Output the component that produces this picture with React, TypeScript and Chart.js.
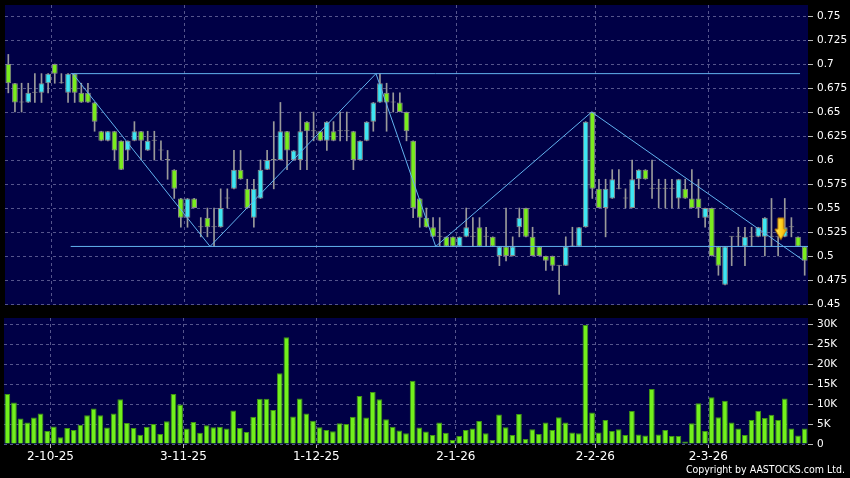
import React, { useEffect, useRef } from "react";
import { Chart, registerables } from "chart.js";

Chart.register(...registerables);

// ---- Data ----
const opens = [
  0.70, 0.68, 0.66, 0.66, 0.67, 0.67, 0.68, 0.70, 0.68, 0.67,
  0.69, 0.67, 0.67, 0.66, 0.63, 0.62, 0.63, 0.62, 0.61, 0.62,
  0.63, 0.61, 0.62, 0.61, 0.60, 0.59, 0.56, 0.54, 0.56, 0.53,
  0.54, 0.53, 0.53, 0.56, 0.57, 0.59, 0.57, 0.54, 0.56, 0.59,
  0.60, 0.60, 0.63, 0.60, 0.60, 0.64, 0.63, 0.63, 0.62, 0.63,
  0.63, 0.63, 0.63, 0.60, 0.62, 0.64, 0.66, 0.67, 0.66, 0.66,
  0.65, 0.62, 0.56, 0.54, 0.53, 0.52, 0.52, 0.52, 0.51, 0.52,
  0.52, 0.53, 0.52, 0.52, 0.50, 0.51, 0.50, 0.53, 0.55, 0.52,
  0.51, 0.50, 0.50, 0.49, 0.49, 0.51, 0.51, 0.53, 0.65, 0.57,
  0.55, 0.56, 0.57, 0.56, 0.55, 0.58, 0.59, 0.57, 0.57, 0.57,
  0.57, 0.56, 0.57, 0.56, 0.56, 0.54, 0.55, 0.51, 0.47, 0.52,
  0.52, 0.51, 0.52, 0.52, 0.52, 0.52, 0.52, 0.52, 0.53, 0.52,
  0.51,
];
const highs = [
  0.71, 0.68, 0.68, 0.68, 0.69, 0.69, 0.69, 0.70, 0.69, 0.69,
  0.69, 0.68, 0.68, 0.66, 0.63, 0.63, 0.63, 0.62, 0.62, 0.64,
  0.63, 0.63, 0.63, 0.62, 0.61, 0.59, 0.56, 0.56, 0.56, 0.54,
  0.55, 0.55, 0.57, 0.57, 0.61, 0.61, 0.58, 0.58, 0.60, 0.61,
  0.64, 0.66, 0.63, 0.61, 0.65, 0.64, 0.65, 0.63, 0.64, 0.64,
  0.65, 0.65, 0.63, 0.62, 0.64, 0.66, 0.69, 0.68, 0.67, 0.67,
  0.65, 0.62, 0.56, 0.55, 0.54, 0.54, 0.52, 0.52, 0.52, 0.55,
  0.54, 0.54, 0.53, 0.52, 0.51, 0.55, 0.52, 0.55, 0.55, 0.53,
  0.51, 0.50, 0.50, 0.49, 0.52, 0.53, 0.53, 0.64, 0.65, 0.58,
  0.58, 0.59, 0.59, 0.57, 0.60, 0.59, 0.59, 0.60, 0.58, 0.58,
  0.58, 0.58, 0.58, 0.59, 0.58, 0.55, 0.55, 0.51, 0.51, 0.52,
  0.53, 0.53, 0.53, 0.53, 0.54, 0.56, 0.52, 0.56, 0.54, 0.52,
  0.51,
];
const lows = [
  0.67, 0.65, 0.65, 0.66, 0.66, 0.66, 0.67, 0.68, 0.68, 0.66,
  0.66, 0.66, 0.66, 0.63, 0.62, 0.62, 0.60, 0.59, 0.60, 0.62,
  0.60, 0.61, 0.60, 0.60, 0.58, 0.56, 0.53, 0.53, 0.55, 0.52,
  0.52, 0.51, 0.53, 0.55, 0.57, 0.58, 0.55, 0.53, 0.56, 0.59,
  0.57, 0.60, 0.59, 0.60, 0.59, 0.59, 0.62, 0.62, 0.61, 0.62,
  0.62, 0.62, 0.59, 0.60, 0.62, 0.63, 0.66, 0.63, 0.65, 0.65,
  0.62, 0.54, 0.53, 0.53, 0.52, 0.51, 0.51, 0.51, 0.51, 0.52,
  0.51, 0.51, 0.51, 0.51, 0.49, 0.495, 0.50, 0.52, 0.52, 0.50,
  0.50, 0.485, 0.485, 0.46, 0.49, 0.51, 0.51, 0.53, 0.56, 0.55,
  0.52, 0.56, 0.57, 0.55, 0.55, 0.57, 0.58, 0.56, 0.55, 0.55,
  0.55, 0.55, 0.56, 0.55, 0.54, 0.53, 0.50, 0.48, 0.47, 0.49,
  0.51, 0.49, 0.51, 0.52, 0.50, 0.51, 0.50, 0.52, 0.52, 0.51,
  0.48,
];
const closes = [
  0.68, 0.66, 0.66, 0.67, 0.67, 0.68, 0.69, 0.69, 0.68, 0.69,
  0.67, 0.66, 0.66, 0.64, 0.62, 0.63, 0.61, 0.59, 0.62, 0.63,
  0.62, 0.62, 0.62, 0.61, 0.60, 0.57, 0.54, 0.56, 0.55, 0.53,
  0.53, 0.53, 0.55, 0.56, 0.59, 0.58, 0.55, 0.57, 0.59, 0.60,
  0.60, 0.63, 0.61, 0.61, 0.63, 0.63, 0.63, 0.62, 0.64, 0.62,
  0.63, 0.63, 0.60, 0.62, 0.64, 0.66, 0.68, 0.66, 0.66, 0.65,
  0.63, 0.55, 0.54, 0.53, 0.52, 0.52, 0.51, 0.51, 0.52, 0.53,
  0.52, 0.51, 0.52, 0.51, 0.51, 0.50, 0.51, 0.54, 0.52, 0.50,
  0.50, 0.495, 0.49, 0.49, 0.51, 0.51, 0.53, 0.64, 0.57, 0.55,
  0.57, 0.58, 0.57, 0.56, 0.58, 0.59, 0.58, 0.57, 0.57, 0.57,
  0.57, 0.58, 0.56, 0.55, 0.55, 0.55, 0.50, 0.49, 0.51, 0.52,
  0.52, 0.52, 0.52, 0.53, 0.54, 0.52, 0.52, 0.53, 0.53, 0.51,
  0.495,
];
const volumes = [
  12500, 10400, 6400, 5400, 6600, 7600, 3250, 4400, 1700, 4000,
  3500, 4800, 7200, 8900, 7200, 4100, 7600, 11200, 5250, 4000,
  2300, 4300, 5000, 2500, 5700, 12500, 9900, 3900, 5500, 2800,
  4700, 4200, 4300, 3900, 8400, 4000, 3000, 6800, 11300, 11300,
  8500, 17700, 26700, 6900, 11400, 7600, 5800, 4200, 3500, 3200,
  5200, 5000, 6800, 12000, 6600, 13000, 11200, 6200, 4300, 3400,
  2700, 15800, 4100, 3100, 2250, 5400, 2800, 1000, 2000, 3500,
  3900, 5750, 2700, 1000, 7400, 4200, 2250, 7500, 1250, 3700,
  2500, 5400, 3500, 6700, 5400, 2900, 2700, 29750, 7900, 2900,
  6000, 3250, 3700, 2250, 8250, 2400, 2100, 13750, 2400, 3500,
  2000, 2000, 600, 5200, 10200, 3250, 11700, 6700, 10800, 5400,
  3900, 2250, 6000, 8300, 6500, 7300, 6000, 11400, 3900, 2100,
  3900,
];

const xTickIndex = [6, 26, 46, 67, 88, 105];
const xTickLabels = ["2-10-25", "3-11-25", "1-12-25", "2-1-26", "2-2-26", "2-3-26"];
const priceTicks = [0.45, 0.475, 0.5, 0.525, 0.55, 0.575, 0.6, 0.625, 0.65, 0.675, 0.7, 0.725, 0.75];
const priceTickLabels = ["0.45", "0.475", "0.5", "0.525", "0.55", "0.575", "0.6", "0.625", "0.65", "0.675", "0.7", "0.725", "0.75"];
const volTicks = [0, 5000, 10000, 15000, 20000, 25000, 30000];
const volTickLabels = ["0", "5K", "10K", "15K", "20K", "25K", "30K"];

// trend lines (x in bar-index units, y in price)
const resistanceX = [9.4, 119.3];
const resistanceY = [0.69, 0.69];
const supportX = [9.4, 120.5];
const supportY = [0.51, 0.51];
const zigzagX = [9.7, 30.4, 55.4, 64.4, 87.9, 119.7];
const zigzagY = [0.69, 0.51, 0.69, 0.51, 0.65, 0.496];
const signalX = [116.4];
const signalY = [0.528];

// ---- Styles ----
const NAVY = "#000046";
const GRID = "#55558c";
const TICKMARK = "#b8b8b8";
const LABEL = "#ffffff";
const UP = "#3ee6f2";
const DOWN = "#7aec1e";
const FLAT = "#9a9a9a";
const EDGE = "#8a8a8a";
const WICK = "#9a9a9a";
const TREND = "#62b2ee";
const VOL = "#72f01c";
const VOL_EDGE = "#3f9414";

const bgPlugin = {
  id: "plotBg",
  beforeDraw(chart: any) {
    const { ctx, chartArea: a } = chart;
    ctx.save();
    ctx.fillStyle = NAVY;
    ctx.fillRect(a.left, a.top, a.right - a.left, a.bottom - a.top);
    ctx.restore();
  },
};

function makeArrow(): HTMLCanvasElement {
  const c = document.createElement("canvas");
  c.width = 14;
  c.height = 24;
  const g = c.getContext("2d")!;
  const grad = g.createLinearGradient(0, 0, 14, 0);
  grad.addColorStop(0, "#fff07a");
  grad.addColorStop(0.5, "#ffd21e");
  grad.addColorStop(1, "#f0a000");
  g.fillStyle = grad;
  g.strokeStyle = "#c27a00";
  g.lineWidth = 1;
  g.beginPath();
  g.moveTo(4, 1);
  g.lineTo(10, 1);
  g.lineTo(10, 12);
  g.lineTo(13, 12);
  g.lineTo(7, 22.5);
  g.lineTo(1, 12);
  g.lineTo(4, 12);
  g.closePath();
  g.fill();
  g.stroke();
  return c;
}

const fitY = (s: any) => {
  s.width = 42;
  s.paddingTop = 0;
  s.paddingBottom = 0;
};

export default function App() {
  const priceRef = useRef<HTMLCanvasElement>(null);
  const volRef = useRef<HTMLCanvasElement>(null);

  useEffect(() => {
    const idx = opens.map((_, i) => i);
    const arrow = makeArrow();
    const xMin = -0.5;
    const xMax = opens.length - 0.5;

    const priceChart = new Chart(priceRef.current!, {
      type: "bar",
      data: {
        datasets: [
          {
            type: "bar",
            data: idx.map((i) => ({ x: i, y: [lows[i], highs[i]] })),
            backgroundColor: WICK,
            borderWidth: 0,
            grouped: false,
            maxBarThickness: 1,
            categoryPercentage: 1,
            barPercentage: 1,
            order: 5,
          } as any,
          {
            type: "bar",
            data: idx.map((i) => ({ x: i, y: [opens[i], closes[i]] })),
            backgroundColor: (c: any) => {
              const i = c.dataIndex;
              if (closes[i] > opens[i]) return UP;
              if (closes[i] < opens[i]) return DOWN;
              return FLAT;
            },
            borderColor: EDGE,
            borderWidth: 1,
            borderSkipped: false,
            minBarLength: 1,
            grouped: false,
            categoryPercentage: 1,
            barPercentage: 0.86,
            order: 4,
          } as any,
          {
            type: "line",
            data: resistanceX.map((x, k) => ({ x, y: resistanceY[k] })),
            borderColor: TREND,
            borderWidth: 1,
            pointRadius: 0,
            fill: false,
            order: 2,
          } as any,
          {
            type: "line",
            data: supportX.map((x, k) => ({ x, y: supportY[k] })),
            borderColor: TREND,
            borderWidth: 1,
            pointRadius: 0,
            fill: false,
            order: 2,
          } as any,
          {
            type: "line",
            data: zigzagX.map((x, k) => ({ x, y: zigzagY[k] })),
            borderColor: TREND,
            borderWidth: 1,
            pointRadius: 0,
            fill: false,
            tension: 0,
            order: 1,
          } as any,
          {
            type: "scatter",
            data: signalX.map((x, k) => ({ x, y: signalY[k] })),
            pointStyle: arrow,
            order: 0,
          } as any,
        ],
      },
      options: {
        animation: false,
        responsive: false,
        maintainAspectRatio: false,
        layout: { padding: { left: 4, top: 5, right: 0, bottom: 5 } },
        plugins: { legend: { display: false }, tooltip: { enabled: false } },
        scales: {
          x: {
            type: "linear",
            min: xMin,
            max: xMax,
            offset: false,
            grid: { color: GRID, drawTicks: false, offset: false },
            border: { display: false, dash: [3, 3] },
            ticks: { display: false },
            afterBuildTicks: (s: any) => {
              s.ticks = xTickIndex.map((i) => ({ value: i + 0.5 }));
            },
            afterFit: (s: any) => {
              s.height = 0;
              s.paddingLeft = 0;
              s.paddingRight = 0;
            },
          },
          y: {
            position: "right",
            min: 0.449,
            max: 0.7615,
            beginAtZero: false,
            grid: { color: GRID, tickColor: TICKMARK, tickLength: 5 },
            border: { display: false, dash: [3, 3] },
            ticks: {
              color: LABEL,
              font: { family: "DejaVu Sans", size: 10.5 },
              padding: 4,
              callback: (_v: any, i: number) => priceTickLabels[i],
            },
            afterBuildTicks: (s: any) => {
              s.ticks = priceTicks.map((v) => ({ value: v }));
            },
            afterFit: fitY,
          },
        },
      } as any,
      plugins: [bgPlugin],
    });

    const volChart = new Chart(volRef.current!, {
      type: "bar",
      data: {
        datasets: [
          {
            data: idx.map((i) => ({ x: i, y: volumes[i] })),
            backgroundColor: VOL,
            borderColor: VOL_EDGE,
            borderWidth: 1,
            borderSkipped: "start",
            categoryPercentage: 1,
            barPercentage: 0.86,
          } as any,
        ],
      },
      options: {
        animation: false,
        responsive: false,
        maintainAspectRatio: false,
        layout: { padding: { left: 4, top: 8, right: 0, bottom: 0 } },
        plugins: { legend: { display: false }, tooltip: { enabled: false } },
        scales: {
          x: {
            type: "linear",
            min: xMin,
            max: xMax,
            offset: false,
            grid: { color: GRID, offset: false, tickColor: TICKMARK, tickLength: 4 },
            border: { display: false, dash: [3, 3] },
            ticks: {
              color: LABEL,
              font: { family: "DejaVu Sans", size: 12 },
              padding: 2,
              maxRotation: 0,
              autoSkip: false,
              callback: (_v: any, i: number) => xTickLabels[i],
            },
            afterBuildTicks: (s: any) => {
              s.ticks = xTickIndex.map((i) => ({ value: i + 0.5 }));
            },
            afterFit: (s: any) => {
              s.height = 34;
              s.paddingLeft = 0;
              s.paddingRight = 0;
            },
          },
          y: {
            position: "right",
            min: 0,
            max: 31500,
            beginAtZero: true,
            grid: { color: GRID, tickColor: TICKMARK, tickLength: 5 },
            border: { display: false, dash: [3, 3] },
            ticks: {
              color: LABEL,
              font: { family: "DejaVu Sans", size: 10.5 },
              padding: 4,
              callback: (_v: any, i: number) => volTickLabels[i],
            },
            afterBuildTicks: (s: any) => {
              s.ticks = volTicks.map((v) => ({ value: v }));
            },
            afterFit: fitY,
          },
        },
      } as any,
      plugins: [bgPlugin],
    });

    return () => {
      priceChart.destroy();
      volChart.destroy();
    };
  }, []);

  return (
    <div
      style={{
        position: "absolute",
        left: 0,
        top: 0,
        width: 850,
        height: 478,
        background: "#000",
        overflow: "hidden",
      }}
    >
      <canvas
        ref={priceRef}
        width={850}
        height={310}
        style={{ position: "absolute", left: 0, top: 0, display: "block" }}
      />
      <canvas
        ref={volRef}
        width={850}
        height={168}
        style={{ position: "absolute", left: 0, top: 310, display: "block" }}
      />
      <div
        style={{
          position: "absolute",
          left: 0,
          top: 463,
          width: 845,
          textAlign: "right",
          color: "#fff",
          fontFamily: '"DejaVu Sans Condensed", "Liberation Sans", sans-serif',
          fontStretch: "condensed",
          fontSize: "10.5px",
          lineHeight: "13px",
          whiteSpace: "nowrap",
        }}
      >
        Copyright by AASTOCKS.com Ltd.
      </div>
    </div>
  );
}
